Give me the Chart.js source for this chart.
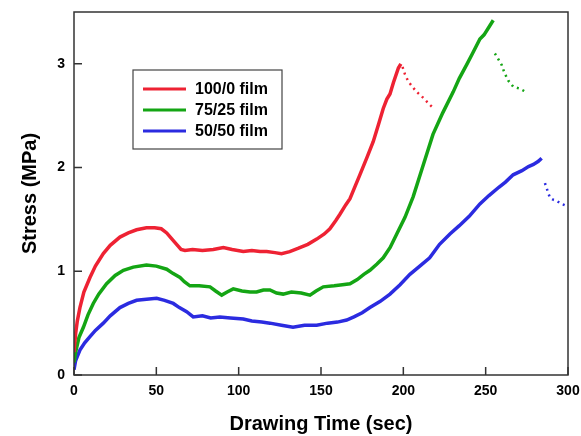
<!DOCTYPE html>
<html>
<head>
<meta charset="utf-8">
<script src="https://cdn.jsdelivr.net/npm/chart.js@4.4.0/dist/chart.umd.min.js"></script>
<style>
  html, body { margin: 0; padding: 0; background: #fff; }
  #wrap { width: 581px; height: 436px; }
</style>
</head>
<body>
<div id="wrap"><canvas id="stressChart"></canvas></div>
<script>
// stress vs drawing time as [time (sec), stress (MPa)]
const red100 = [
  [0,0.22],[1,0.40],[2,0.52],[3.6,0.65],[6,0.80],[9.7,0.94],[13,1.05],[17.8,1.17],[22,1.25],
  [27.9,1.33],[33,1.37],[38,1.40],[44,1.42],[49,1.42],[53,1.41],[56.3,1.37],[59,1.32],[62.3,1.26],
  [65,1.21],[67.4,1.20],[72,1.21],[78,1.20],[84.6,1.21],[90.7,1.23],[96,1.21],[102.8,1.19],[108,1.20],
  [113,1.19],[117,1.19],[122,1.18],[126,1.17],[131,1.19],[136,1.22],[142,1.26],[147.4,1.31],[152,1.36],
  [155.4,1.41],[159,1.49],[161.5,1.55],[165,1.64],[167.6,1.70],[171,1.83],[173.6,1.93],[178,2.10],
  [181.7,2.25],[185,2.42],[187.8,2.57],[190,2.66],[191.9,2.71],[194,2.82],[197,2.96],[198.5,3.00]
];
const red100Tail = [
  [199.5,2.97],[201,2.90],[203,2.83],[205.5,2.78],[208,2.73],[211,2.69],[214,2.64],[216.5,2.60],[218.6,2.57]
];

const green75 = [
  [0,0.12],[1,0.22],[3,0.36],[5.7,0.46],[8.5,0.58],[11.7,0.69],[15,0.78],[19.8,0.88],[25,0.96],
  [30,1.01],[36,1.04],[44,1.06],[50,1.05],[56.3,1.02],[60,0.98],[64.4,0.94],[67,0.90],[70.4,0.86],
  [76,0.86],[82.6,0.85],[86,0.81],[89.7,0.77],[93,0.80],[96.7,0.83],[102,0.81],[106.9,0.80],
  [110.9,0.80],[115,0.82],[119,0.82],[123,0.79],[127,0.78],[132,0.80],[138,0.79],[143.3,0.77],
  [147,0.81],[151.4,0.85],[158,0.86],[163,0.87],[167.6,0.88],[172,0.92],[176,0.97],[179.7,1.01],
  [184,1.07],[187.8,1.13],[192,1.23],[196,1.36],[201,1.52],[206,1.72],[212,2.02],[218,2.32],
  [224,2.53],[230.3,2.73],[234,2.86],[238.4,2.99],[242,3.10],[246.5,3.24],[249,3.28],[252.6,3.37],[254.6,3.42]
];
const green75Tail = [
  [255.6,3.10],[257.5,3.05],[259.7,2.99],[261.5,2.91],[263.7,2.84],[266.7,2.78],[270.8,2.76],[274.4,2.73]
];

const blue50 = [
  [0,0.05],[1,0.14],[3.6,0.24],[6.5,0.31],[9.7,0.37],[13,0.43],[17.8,0.50],[22,0.57],[27.9,0.65],
  [33,0.69],[38,0.72],[44,0.73],[50.2,0.74],[55,0.72],[60.3,0.69],[64,0.65],[68.4,0.61],[72.4,0.56],
  [78,0.57],[83,0.55],[88.6,0.56],[95,0.55],[102.8,0.54],[108,0.52],[114,0.51],[119,0.50],[126,0.48],
  [133,0.46],[140,0.48],[147.4,0.48],[154,0.50],[160,0.51],[165.6,0.53],[170,0.56],[175,0.60],
  [179.7,0.65],[186,0.71],[191.9,0.78],[198,0.87],[204,0.97],[210,1.05],[216,1.13],[222,1.26],
  [228.3,1.36],[234,1.44],[240,1.53],[246.5,1.65],[252,1.73],[258,1.81],[262,1.86],[266.7,1.93],
  [272,1.97],[276,2.01],[279,2.03],[282,2.06],[284,2.09]
];
const blue50Tail = [
  [286,1.85],[287.5,1.78],[289,1.71],[291,1.69],[293,1.68],[296,1.65],[299,1.63]
];

const seriesNames = ["100/0 film", "75/25 film", "50/50 film"];
const seriesColors = ["#ee2233", "#14a514", "#2b2be0"];
const xTicks = [0, 50, 100, 150, 200, 250, 300];
const yTicks = [0, 1, 2, 3];

const toXY = arr => arr.map(p => ({x: p[0], y: p[1]}));
const FONT = "'Liberation Sans', Arial, Helvetica, sans-serif";

function mainSet(label, arr, color) {
  return { label: label, data: toXY(arr), borderColor: color, backgroundColor: color,
           borderWidth: 3.5, pointRadius: 0, tension: 0 };
}
function tailSet(arr, color) {
  return { label: "", data: toXY(arr), borderColor: color, backgroundColor: color,
           borderWidth: 2.5, borderDash: [2, 4], pointRadius: 0, tension: 0 };
}

// frame, inward ticks and the boxed legend
const framePlugin = {
  id: "frame",
  afterDraw(chart) {
    const ctx = chart.ctx;
    const a = chart.chartArea;
    const xs = chart.scales.x, ys = chart.scales.y;
    ctx.save();
    ctx.strokeStyle = "#333";
    ctx.lineWidth = 1.5;
    ctx.strokeRect(a.left, a.top, a.right - a.left, a.bottom - a.top);
    ctx.beginPath();
    xTicks.forEach(v => {
      const px = xs.getPixelForValue(v);
      ctx.moveTo(px, a.bottom);
      ctx.lineTo(px, a.bottom - 8);
    });
    yTicks.forEach(v => {
      const py = ys.getPixelForValue(v);
      ctx.moveTo(a.left, py);
      ctx.lineTo(a.left + 8, py);
    });
    ctx.stroke();

    // legend
    const lx = 133, ly = 70, lw = 149, lh = 79;
    ctx.fillStyle = "#fff";
    ctx.fillRect(lx, ly, lw, lh);
    ctx.strokeStyle = "#444";
    ctx.lineWidth = 1.2;
    ctx.strokeRect(lx, ly, lw, lh);
    ctx.font = "bold 16px " + FONT;
    ctx.textBaseline = "middle";
    seriesNames.forEach((name, i) => {
      const y = 89 + i * 21;
      ctx.strokeStyle = seriesColors[i];
      ctx.lineWidth = 3;
      ctx.beginPath();
      ctx.moveTo(143, y);
      ctx.lineTo(186, y);
      ctx.stroke();
      ctx.fillStyle = "#000";
      ctx.fillText(name, 195, y + 1);
    });
    ctx.restore();
  }
};

new Chart(document.getElementById("stressChart"), {
  type: "line",
  data: {
    datasets: [
      mainSet(seriesNames[0], red100, seriesColors[0]),
      mainSet(seriesNames[1], green75, seriesColors[1]),
      mainSet(seriesNames[2], blue50, seriesColors[2]),
      tailSet(red100Tail, seriesColors[0]),
      tailSet(green75Tail, seriesColors[1]),
      tailSet(blue50Tail, seriesColors[2])
    ]
  },
  options: {
    responsive: true,
    maintainAspectRatio: false,
    animation: false,
    layout: { padding: { top: 12, right: 13, left: 0, bottom: 0 } },
    scales: {
      x: {
        type: "linear",
        min: 0,
        max: 300,
        // fixed axis band; drop the label overhang so the plot box keeps its size
        afterFit: s => { s.height = 61; s.paddingLeft = 0; s.paddingRight = 0; },
        grid: { display: false, drawTicks: false },
        border: { display: false },
        ticks: {
          stepSize: 50,
          padding: 8,
          color: "#000",
          font: { family: FONT, size: 14, weight: "bold" }
        },
        title: {
          display: true,
          text: "Drawing Time (sec)",
          color: "#000",
          padding: { top: 0, bottom: 0 },
          font: { family: FONT, size: 20, weight: "bold" }
        }
      },
      y: {
        min: 0,
        max: 3.5,
        afterFit: s => { s.width = 74; s.paddingTop = 0; s.paddingBottom = 0; },
        grid: { display: false, drawTicks: false },
        border: { display: false },
        ticks: {
          stepSize: 1,
          includeBounds: false,
          padding: 9,
          color: "#000",
          font: { family: FONT, size: 14, weight: "bold" }
        },
        title: {
          display: true,
          text: "Stress (MPa)",
          color: "#000",
          padding: { top: 18, bottom: 0 },
          font: { family: FONT, size: 20, weight: "bold" }
        }
      }
    },
    plugins: {
      legend: { display: false },
      tooltip: { enabled: false }
    }
  },
  plugins: [framePlugin]
});
</script>
</body>
</html>
